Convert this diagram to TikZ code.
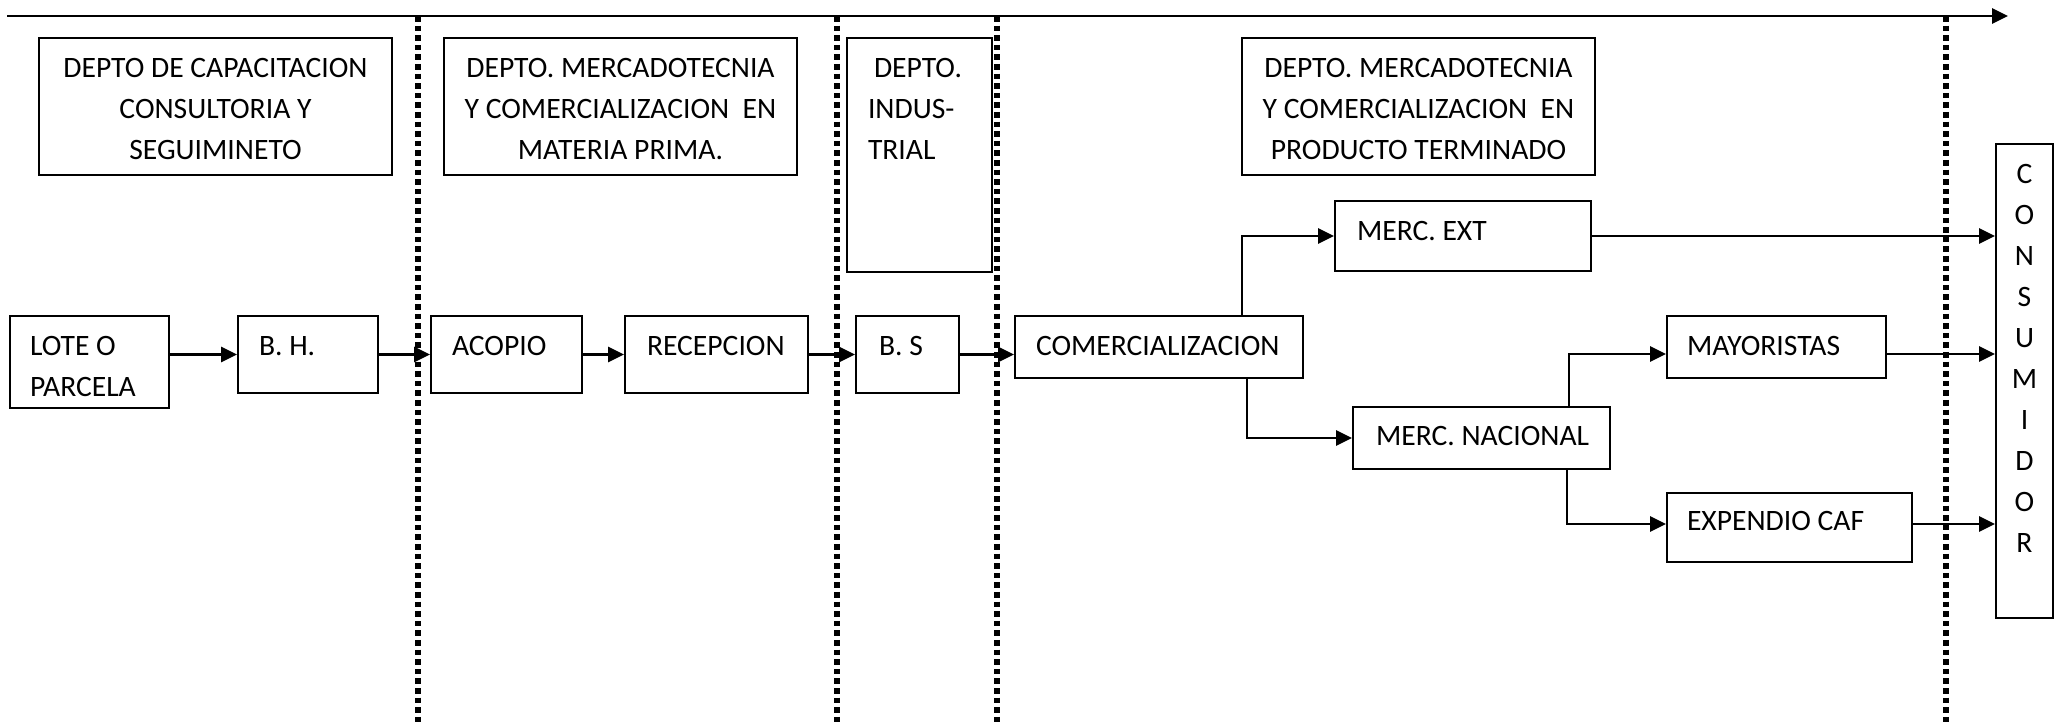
\documentclass[tikz,border=0pt]{standalone}
\usepackage{fontspec}
\setmainfont{Carlito}
\usetikzlibrary{arrows.meta}
\begin{document}
\begin{tikzpicture}[x=0.5pt,y=-0.5pt,
  box/.style={draw, line width=1pt, anchor=north west, inner ysep=0pt,
    text height=19.6pt, font=\fontsize{14.8pt}{20.5pt}\selectfont},
  leftbox/.style={box, align=flush left},
  head/.style={box, align=flush center, inner xsep=4pt, text width=168.5pt, text depth=48.9pt},
  conn/.style={line width=1.35pt, -{Triangle[length=8pt,width=7.5pt]}},
  lane/.style={line width=2.6pt, dash pattern=on 2.8pt off 2pt},
  axis/.style={line width=1.4pt, -{Triangle[length=8pt,width=7.5pt]}}
]
\useasboundingbox (0,0) rectangle (2055,726);

% time axis and stage separators
\coordinate (ax0) at (7,16);
\coordinate (ax1) at (2008,16);
\foreach \n/\x in {l1/418, l2/837, l3/997, l4/1946} {
  \coordinate (\n t) at (\x,16);
  \coordinate (\n b) at (\x,726);
}
\draw[lane] (l1t) -- (l1b);
\draw[lane] (l2t) -- (l2b);
\draw[lane] (l3t) -- (l3b);
\draw[lane] (l4t) -- (l4b);
\draw[axis] (ax0) -- (ax1);

% departments
\node[head] (hA) at (38,37) {DEPTO DE CAPACITACION\\CONSULTORIA Y\\SEGUIMINETO};
\node[head] (hB) at (443,37) {DEPTO. MERCADOTECNIA\\Y COMERCIALIZACION\ \ EN\\MATERIA PRIMA.};
\node[leftbox, inner xsep=10.5pt, text width=51.5pt, text depth=97.4pt] (hC) at (846,37)
  {\hspace*{3pt}DEPTO.\\INDUS-\\TRIAL};
\node[head] (hD) at (1241,37) {DEPTO. MERCADOTECNIA\\Y COMERCIALIZACION\ \ EN\\PRODUCTO TERMINADO};

% process steps
\node[leftbox, inner xsep=10pt, text width=59.5pt, text depth=26.4pt] (lote) at (9,315) {LOTE O\\PARCELA};
\node[leftbox, inner xsep=10.5pt, text width=49pt, text depth=18.9pt] (bh) at (237,315) {\mbox{B. H.}};
\node[leftbox, inner xsep=10.5pt, text width=54.5pt, text depth=18.9pt] (acopio) at (430,315) {\mbox{ACOPIO}};
\node[leftbox, inner xsep=11pt, text width=69.5pt, text depth=18.9pt] (recep) at (624,315) {\mbox{RECEPCION}};
\node[leftbox, inner xsep=11.5pt, text width=28.5pt, text depth=18.9pt] (bs) at (855,315) {\mbox{B. S}};
\node[leftbox, inner xsep=10.5pt, text width=123pt, text depth=11.4pt] (comerc) at (1014,315) {\mbox{COMERCIALIZACION}};
\node[leftbox, inner xsep=11pt, text width=106pt, text depth=15.4pt] (mext) at (1334,200) {\mbox{MERC. EXT}};
\node[leftbox, inner xsep=10pt, text width=89.5pt, text depth=11.4pt] (mayor) at (1666,315) {\mbox{MAYORISTAS}};
\node[leftbox, inner xsep=11.5pt, text width=105.5pt, text height=19.1pt, text depth=11.9pt] (mnac) at (1352,406) {\mbox{MERC. NACIONAL}};
\node[leftbox, inner xsep=10pt, text width=102.5pt, text height=18.6pt, text depth=15.9pt] (expend) at (1666,492) {\mbox{EXPENDIO CAF}};
\node[box, align=flush center, inner xsep=2pt, text width=24.5pt, text depth=217.4pt] (cons) at (1995,143)
  {C\\O\\N\\S\\U\\M\\I\\D\\O\\R};

% flow
\draw[conn] (lote.east |- bh.west) -- (bh.west);
\draw[conn] (bh.east) -- (acopio.west);
\draw[conn] (acopio.east) -- (recep.west);
\draw[conn] (recep.east) -- (bs.west);
\draw[conn] (bs.east) -- (bs.east -| comerc.west);
\draw[conn] ([xshift=41.5pt]comerc.north) |- (mext.west);
\draw[conn] ([xshift=44pt]comerc.south) |- (mnac.west);
\draw[conn] ([xshift=43.75pt]mnac.north) |- ([yshift=-3.5pt]mayor.west);
\draw[conn] ([xshift=42.75pt]mnac.south) |- ([yshift=1.75pt]expend.west);
\draw[conn] (mext.east) -- (mext.east -| cons.west);
\draw[conn] ([yshift=-3.5pt]mayor.east) -- ([yshift=-3.5pt]mayor.east -| cons.west);
\draw[conn] ([yshift=1.75pt]expend.east) -- ([yshift=1.75pt]expend.east -| cons.west);
\end{tikzpicture}
\end{document}
